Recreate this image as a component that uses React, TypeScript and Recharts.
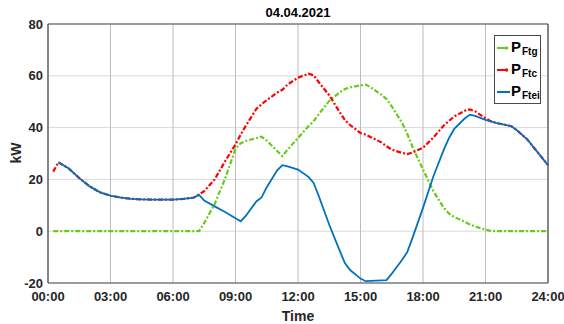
import { LineChart, Line, XAxis, YAxis, CartesianGrid, ReferenceLine } from "recharts";

const FONT = "'Liberation Sans', Arial, Helvetica, sans-serif";
const AXIS = "#4a4a4a";
const TXT = "#262626";

const GREEN = "#66cc1a";
const RED = "#ff0000";
const BLUE = "#0072bd";

// hours of day
const TIMES = [
  0.25, 0.5, 1, 1.5, 2, 2.5, 3, 3.5, 4, 4.5, 5, 5.5, 6, 6.5, 7, 7.25, 7.5, 8, 8.5, 9, 9.25, 9.5, 10, 10.25,
  10.5, 11, 11.25, 11.5, 12, 12.5, 12.75, 13, 13.5, 14, 14.25, 14.5, 15, 15.25, 15.5, 16, 16.25, 16.5, 17,
  17.25, 17.5, 18, 18.5, 19, 19.25, 19.5, 20, 20.25, 20.5, 21, 21.25, 21.5, 22, 22.25, 22.5, 23, 23.5, 24,
];

const P_FTG = [
  0, 0, 0, 0, 0, 0, 0, 0, 0, 0, 0, 0, 0, 0, 0, 0, 3.2, 10.5, 20.3, 31.8, 34.0, 34.9, 35.9, 36.5,
  35.0, 31.0, 29.0, 31.5, 36.0, 40.5, 42.5, 45.2, 50.3, 53.6, 54.9, 55.5, 56.3, 56.6, 55.5, 52.7, 51.0, 48.2, 41.8,
  37.5, 32.5, 23.8, 15.4, 9.0, 6.8, 5.5, 3.6, 2.6, 1.8, 0.6, 0.1, 0, 0, 0, 0, 0, 0, 0,
];

const P_FTC = [
  23.0, 26.6, 24.2, 20.5, 17.3, 15.0, 13.7, 13.0, 12.5, 12.3, 12.2, 12.2, 12.2, 12.5, 13.0, 14.2, 15.5, 20.0, 27.0, 33.5, 37.3, 40.8, 47.2, 49.0,
  50.6, 53.5, 54.6, 56.6, 59.3, 60.8, 60.2, 57.5, 52.5, 46.0, 42.9, 41.0, 37.9, 37.3, 36.3, 34.3, 32.8, 31.5, 30.2,
  29.8, 30.4, 32.2, 36.2, 40.8, 42.6, 44.3, 46.5, 47.0, 46.3, 43.6, 42.5, 41.8, 41.0, 40.5, 39.0, 35.5, 30.5, 25.5,
];

const P_FTEI = [
  null, 26.6, 24.2, 20.5, 17.3, 15.0, 13.7, 13.0, 12.5, 12.3, 12.2, 12.2, 12.2, 12.5, 13.0, 14.0, 11.8, 9.6, 7.4, 5.0, 3.8, 6.0, 11.5, 13.0,
  17.0, 23.5, 25.5, 25.0, 23.8, 21.0, 18.6, 13.5, 2.5, -7.5, -12.3, -15.0, -18.3, -19.3, -19.2, -19.0, -18.9, -16.4, -11.0,
  -8.0, -2.5, 9.0, 21.2, 31.5, 36.0, 39.5, 43.5, 45.0, 44.5, 43.0, 42.4, 41.8, 41.0, 40.5, 39.0, 35.5, 30.5, 25.5,
];

const X_TICKS = [0, 3, 6, 9, 12, 15, 18, 21, 24];
const Y_TICKS = [-20, 0, 20, 40, 60, 80];

const data = TIMES.map((t, i) => ({ t, ftg: P_FTG[i], ftc: P_FTC[i], ftei: P_FTEI[i] }));

const SERIES = [
  { key: "ftg", sub: "Ftg", color: GREEN, dash: true },
  { key: "ftc", sub: "Ftc", color: RED, dash: true },
  { key: "ftei", sub: "Ftei", color: BLUE, dash: false },
];

const DASH = "5 2 2 2";

const fmtHour = (h: number) => `${String(h).padStart(2, "0")}:00`;

function LegendBox() {
  return (
    <div
      style={{
        position: "absolute",
        left: 494,
        top: 35,
        boxSizing: "border-box",
        width: 47,
        height: 69,
        background: "#fff",
        border: `1px solid ${AXIS}`,
        paddingTop: 1,
        fontFamily: FONT,
        fontWeight: "bold",
        color: "#000",
      }}
    >
      {SERIES.map((s) => (
        <div key={s.key} style={{ display: "flex", alignItems: "center", height: 22 }}>
          <svg width={15} height={10} style={{ marginLeft: 1, flex: "none" }}>
            <line x1={1} y1={5} x2={s.dash ? 9 : 14} y2={5} stroke={s.color} strokeWidth={2} />
            {s.dash && <circle cx={10.5} cy={5} r={1.7} fill={s.color} />}
          </svg>
          <span style={{ fontSize: 15, lineHeight: "15px", marginTop: -4 }}>P</span>
          <span style={{ fontSize: 10, position: "relative", top: 3, marginLeft: 1 }}>{s.sub}</span>
        </div>
      ))}
    </div>
  );
}

export default function App() {
  const tick = { fill: TXT, fontSize: 13, fontWeight: "bold", fontFamily: FONT };
  return (
    <div style={{ position: "absolute", left: 0, top: 0, width: 564, height: 324, background: "#fff" }}>
      <div
        style={{
          position: "absolute",
          left: 48,
          width: 500,
          top: 5,
          textAlign: "center",
          fontFamily: FONT,
          fontWeight: "bold",
          fontSize: 13,
          color: "#000",
        }}
      >
        04.04.2021
      </div>
      <div
        style={{
          position: "absolute",
          left: 16,
          top: 153,
          transform: "translate(-50%, -50%) rotate(-90deg)",
          fontFamily: FONT,
          fontWeight: "bold",
          fontSize: 14,
          color: TXT,
        }}
      >
        kW
      </div>
      <LineChart width={564} height={324} data={data} margin={{ top: 24, right: 16, bottom: 0, left: 0 }}>
        <CartesianGrid horizontal={true} vertical={false} stroke="#d9d9d9" strokeWidth={1} />
        <CartesianGrid horizontal={false} vertical={true} stroke="#bdbdbd" strokeWidth={1} />
        <XAxis
          dataKey="t"
          type="number"
          domain={[0, 24]}
          ticks={X_TICKS}
          tickFormatter={fmtHour}
          tick={tick}
          tickSize={0}
          tickMargin={9}
          height={41}
          axisLine={{ stroke: AXIS, strokeWidth: 1.2 }}
          interval={0}
          label={{
            value: "Time",
            position: "insideBottom",
            offset: 3,
            style: { fill: TXT, fontSize: 14, fontWeight: "bold", fontFamily: FONT },
          }}
        />
        <YAxis
          type="number"
          domain={[-20, 80]}
          ticks={Y_TICKS}
          tick={tick}
          tickSize={0}
          tickMargin={5}
          width={48}
          axisLine={{ stroke: AXIS, strokeWidth: 1.2 }}
          interval={0}
        />
        <ReferenceLine y={80} stroke={AXIS} strokeWidth={1.2} />
        <ReferenceLine x={24} stroke={AXIS} strokeWidth={1.2} />
        <Line dataKey="ftg" stroke={GREEN} strokeWidth={2.2} strokeDasharray={DASH} dot={false} isAnimationActive={false} />
        <Line dataKey="ftc" stroke={RED} strokeWidth={2.2} strokeDasharray={DASH} dot={false} isAnimationActive={false} />
        <Line dataKey="ftei" stroke={BLUE} strokeWidth={1.8} dot={false} isAnimationActive={false} />
      </LineChart>
      <LegendBox />
    </div>
  );
}
